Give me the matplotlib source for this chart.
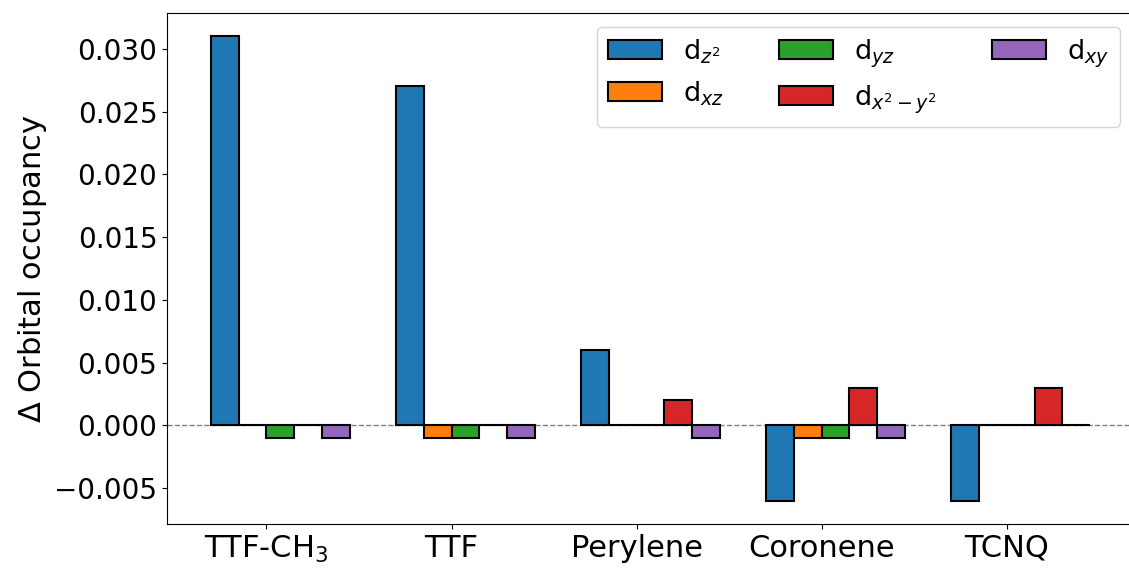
import numpy as np
import matplotlib.pyplot as plt

# Change in d-orbital occupancy per molecule
molecules = ['TTF-CH$_3$', 'TTF', 'Perylene', 'Coronene', 'TCNQ']
orbitals = [r'd$_{z^2}$', r'd$_{xz}$', r'd$_{yz}$', r'd$_{x^2-y^2}$', r'd$_{xy}$']

d_z2 = [0.031, 0.027, 0.006, -0.006, -0.006]
d_xz = [0.0, -0.001, 0.0, -0.001, 0.0]
d_yz = [-0.001, -0.001, 0.0, -0.001, 0.0]
d_x2y2 = [0.0, 0.0, 0.002, 0.003, 0.003]
d_xy = [-0.001, -0.001, -0.001, -0.001, 0.0]

series = [d_z2, d_xz, d_yz, d_x2y2, d_xy]
colors = ['#1f77b4', '#ff7f0e', '#2ca02c', '#d62728', '#9467bd']

x = np.arange(len(molecules))
width = 0.15

fig = plt.figure(figsize=(11.29, 5.70), dpi=100)
ax = fig.add_axes([167 / 1129, 46 / 570, 967 / 1129, 511 / 570])

for i, (vals, lab, c) in enumerate(zip(series, orbitals, colors)):
    ax.bar(x + (i - 2) * width, vals, width, align='edge', label=lab,
           color=c, edgecolor='black', linewidth=1.5)

ax.axhline(0, color='gray', linestyle='--', linewidth=1, zorder=0.5)

ax.set_xticks(x)
ax.set_xticklabels(molecules, fontsize=22)
ax.set_ylabel(r'$\Delta$ Orbital occupancy', fontsize=22)
ax.tick_params(axis='y', labelsize=20)
ax.legend(ncol=3, fontsize=19.5, loc='upper right')

fig.savefig('out.png', dpi=100)
